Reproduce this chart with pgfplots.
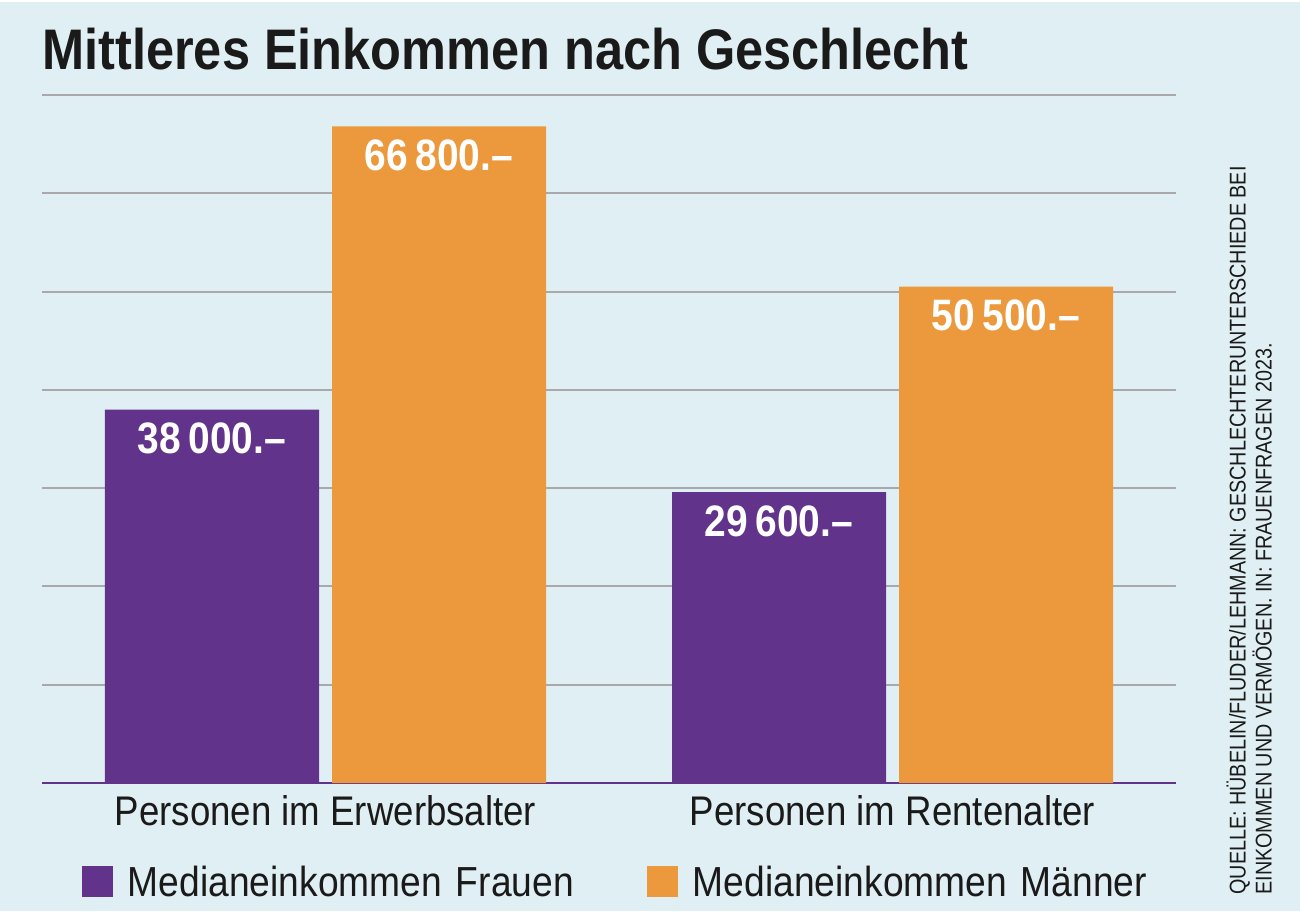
\documentclass[border=0pt]{standalone}
\usepackage{fontspec}
\setmainfont{Liberation Sans}[FakeStretch=0.885]
\newfontfamily\titlefont{Liberation Sans}[FakeStretch=0.883]
\newfontfamily\srcfont{Liberation Sans}[FakeStretch=0.867]
\usepackage{pgfplots}
\pgfplotsset{compat=1.18}

\definecolor{bg}{HTML}{E0EFF3}
\definecolor{purp}{HTML}{62338A}
\definecolor{orng}{HTML}{EC993D}
\definecolor{gridc}{HTML}{A9A9AB}
\definecolor{ink}{HTML}{1A1A1A}

\begin{document}
\begin{tikzpicture}
% 1 px = 0.5 pt, picture 1300 x 911 px
\fill[white] (0,0) rectangle (650pt,455.5pt);
\fill[bg] (0,0) rectangle (650pt,454.5pt);

\node[anchor=base west, inner sep=0pt, text=ink, font=\titlefont\bfseries\fontsize{28.6}{30}\selectfont]
  at (21pt,420.5pt) {Mittleres Einkommen nach Geschlecht};

\node[rotate=90, anchor=north west, inner sep=0pt, align=left, text=ink,
      font=\srcfont\fontsize{11.4}{13}\selectfont]
  at (613pt,8pt) {QUELLE: HÜBELIN/FLUDER/LEHMANN: GESCHLECHTERUNTERSCHIEDE BEI\\
                  EINKOMMEN UND VERMÖGEN. IN: FRAUENFRAGEN 2023.};

\begin{axis}[
    at={(21pt,64pt)}, anchor=south west,
    scale only axis,
    width=567pt, height=344pt,
    xmin=0, xmax=2,
    ymin=0, ymax=70000,
    ybar=6.5pt,
    bar width=107pt,
    axis x line*=bottom,
    axis y line*=left,
    x axis line style={purp, line width=0.8pt},
    y axis line style={draw=none},
    xtick={0.5,1.5},
    xticklabels={Personen im Erwerbsalter, Personen im Rentenalter},
    major tick length=0pt,
    xticklabel style={inner sep=0pt, anchor=north, yshift=-6pt, text=ink,
                      font=\fontsize{20.7}{22}\selectfont},
    ytick={10000,20000,...,70000},
    scaled y ticks=false,
    yticklabels={},
    ymajorgrids,
    major grid style={gridc, line width=1pt},
    clip=false,
    nodes near coords={\pgfmathprintnumber[fixed, 1000 sep={\,}, assume math mode=true]{\pgfplotspointmeta}.–},
    every node near coord/.append style={anchor=north, inner sep=0pt, yshift=-6.5pt,
        text=white, font=\bfseries\fontsize{22}{24}\selectfont},
    legend columns=2,
    legend style={draw=none, fill=none, inner sep=0pt, outer sep=0pt,
        at={(0.03527,-0.1432)}, anchor=west,
        column sep=0pt,
        /tikz/every odd column/.append style={column sep=7.5pt},
        nodes={inner sep=0pt, text height=15pt, text depth=0pt, text width=259.5pt,
               align=left, text=ink, font=\fontsize{21}{23}\selectfont}},
]
\addplot[fill=purp, draw=none,
  legend image code/.code={\fill[purp] (0pt,-7.75pt) rectangle (15.5pt,7.75pt);}]
  coordinates {(0.5,38000) (1.5,29600)};
\addplot[fill=orng, draw=none,
  legend image code/.code={\fill[orng] (0pt,-7.75pt) rectangle (15.5pt,7.75pt);}]
  coordinates {(0.5,66800) (1.5,50500)};
\legend{Medianeinkommen Frauen, Medianeinkommen Männer}
\end{axis}
\end{tikzpicture}
\end{document}
